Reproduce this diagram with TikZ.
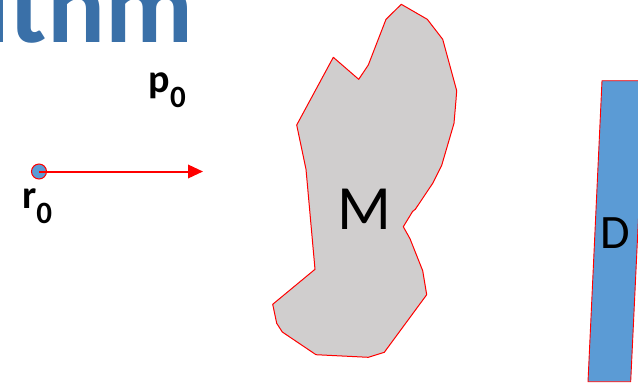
\documentclass[tikz,border=0pt]{standalone}
\usepackage{fontspec}
\setmainfont{Carlito}
\usetikzlibrary{arrows.meta}
\definecolor{titleblue}{RGB}{58,112,168}
\definecolor{mgray}{RGB}{208,206,206}
\definecolor{dblue}{RGB}{91,155,213}
\tikzset{
  outline/.style={draw=red, line width=1pt, line join=round},
  lbl/.style={anchor=base west, inner sep=0pt, font=\bfseries\fontsize{40}{40}\selectfont},
}
\newcommand{\mysub}[1]{\raisebox{-15.5pt}{\fontsize{31}{31}\selectfont #1}}
\begin{document}
\begin{tikzpicture}[x=1pt,y=-1pt]
\useasboundingbox (0,0) rectangle (638,384);
\begin{scope}
\clip (0,0) rectangle (638,384);
% title fragment
\node[anchor=base east, inner sep=0pt, text=titleblue,
      font=\bfseries\fontsize{108}{108}\selectfont] (title) at (193,42) {ithm};
% shape M
\draw[outline, fill=mgray]
  (401.3,4.3) -- (427.3,19.3) -- (442.7,39.3) -- (456.7,90.7) -- (456,100)
  -- (454,123.3) -- (441.7,165.3) -- (432.7,183.3) -- (415.3,209.3)
  -- (412.7,211.3) -- (403.3,226.7) -- (410,238.7) -- (422.7,270.7)
  -- (426.7,294.7) -- (384.3,352.3) -- (368.3,357.3) -- (316,354.7)
  -- (282.3,332) -- (276.7,323.3) -- (272.7,304.3) -- (315,269.3)
  -- (306,169.3) -- (296.7,125) -- (333.3,57.3) -- (358.7,79.3)
  -- (368.3,65) -- (386,19.3) -- cycle;
\node[inner sep=0pt, font=\fontsize{63}{63}\selectfont] (M) at (364,209) {M};
% shape D
\draw[outline, line width=0.9pt, fill=dblue]
  (602,80.7) -- (645,80.7) -- (630.7,381.7) -- (588,381.7) -- cycle;
\node[inner sep=0pt, font=\fontsize{48}{48}\selectfont] (D) at (615.5,233.3) {D};
\end{scope}
% particle and momentum
\node[circle, draw=red, fill=dblue, line width=1pt, minimum size=15pt, inner sep=0pt] (r0dot) at (39,171.5) {};
\coordinate (tip) at (203,171.5);
\draw[red, line width=2pt, -{Triangle[length=15pt,width=13.5pt]}] (r0dot.center) -- (tip);
\node[lbl] (p0) at (148.5,92) {p\mysub{0}};
\node[lbl] (r0) at (22,208) {r\mysub{0}};
\end{tikzpicture}
\end{document}
